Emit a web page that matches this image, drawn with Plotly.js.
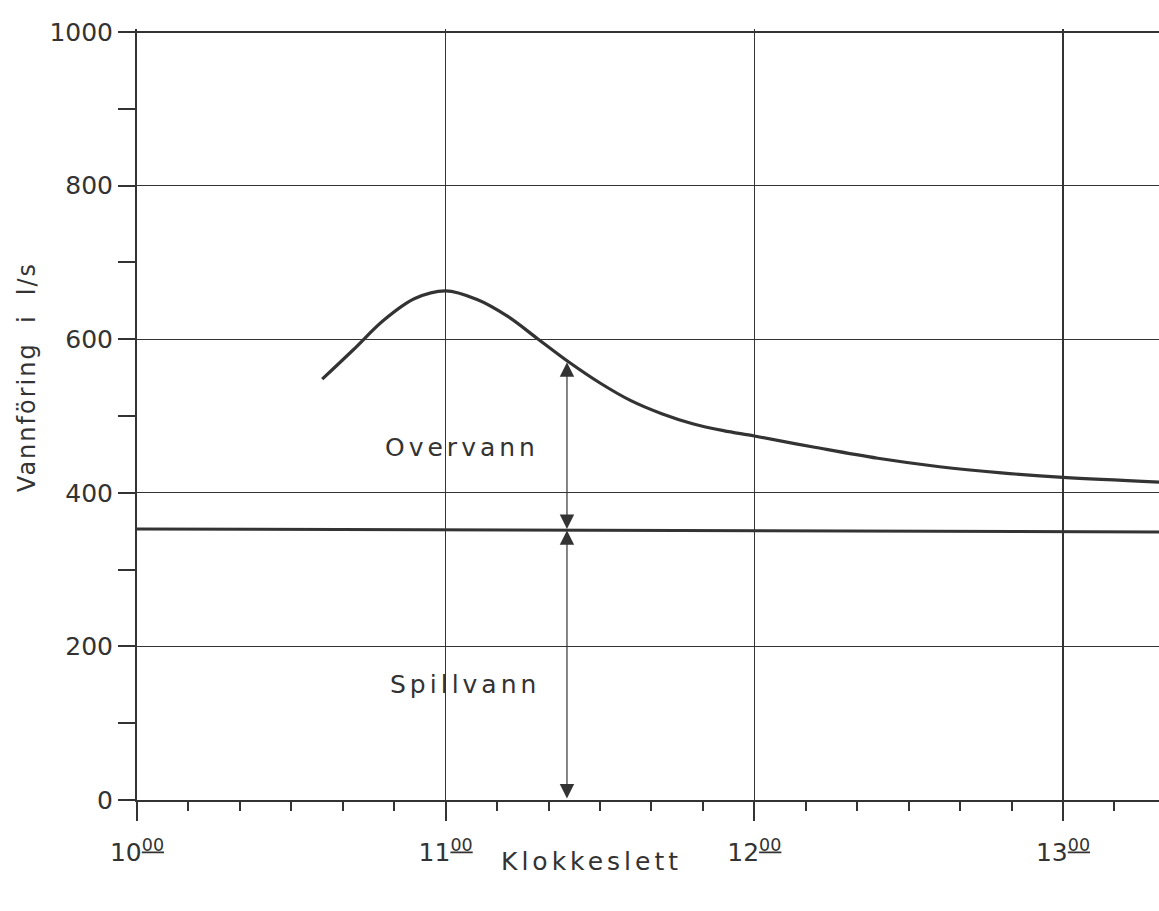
<!DOCTYPE html>
<html>
<head>
<meta charset="utf-8">
<script src="https://cdn.plot.ly/plotly-3.0.1.min.js"></script>
<style>
  html, body { margin: 0; padding: 0; background: #fff; }
  #chart { width: 1159px; height: 911px; }
</style>
</head>
<body>
<div id="chart"></div>
<script>
// Time in decimal hours, flow in l/s
const curveTime = [10.60, 10.70, 10.80, 10.90, 11.00, 11.10, 11.20, 11.30, 11.40, 11.50, 11.60, 11.70, 11.80, 11.90, 12.00, 12.20, 12.40, 12.60, 12.80, 13.00, 13.311];
const curveFlow = [548, 586, 625, 653, 663, 652, 630, 600, 570, 543, 520, 503, 490, 481, 474, 459, 445, 434, 426, 420, 414];

const spillTime = [10.0, 13.311];
const spillFlow = [353, 349];

const arrowTime = 11.393;
const arrowTop = 570;
const arrowMid = 351;
const arrowBottom = 0;

const xTickVals = [10, 11, 12, 13];
const xTickText = ['10<sup><u>00</u></sup>', '11<sup><u>00</u></sup>', '12<sup><u>00</u></sup>', '13<sup><u>00</u></sup>'];
const yTickVals = [0, 200, 400, 600, 800, 1000];

const labelOver = 'Overvann';
const labelSpill = 'Spillvann';
const xTitle = 'Klokkeslett';
const yTitle = 'Vannföring  i  l/s';

const ink = '#333333';
const font = 'DejaVu Sans, sans-serif';

const traces = [
  { x: spillTime, y: spillFlow, mode: 'lines', line: { color: ink, width: 3 }, hoverinfo: 'skip', showlegend: false },
  { x: curveTime, y: curveFlow, mode: 'lines', line: { color: ink, width: 3.2, shape: 'spline', smoothing: 1 }, hoverinfo: 'skip', showlegend: false }
];

const spaced = (t, s) => '<span style="letter-spacing:' + s + 'px">' + t + '</span>';

const arrowStyle = { xref: 'x', yref: 'y', axref: 'x', ayref: 'y', showarrow: true, arrowside: 'end+start',
  arrowhead: 2, startarrowhead: 2, arrowsize: 2.4, startarrowsize: 2.4, arrowwidth: 1.2, arrowcolor: ink,
  standoff: 0, startstandoff: 0, text: '' };

const annotations = [
  Object.assign({ x: arrowTime, y: arrowTop, ax: arrowTime, ay: arrowMid }, arrowStyle),
  Object.assign({ x: arrowTime, y: arrowMid, ax: arrowTime, ay: arrowBottom }, arrowStyle),
  { x: 11.053, y: 459, xref: 'x', yref: 'y', text: spaced(labelOver, 4), showarrow: false, font: { family: font, size: 25, color: ink }, xanchor: 'center', yanchor: 'middle' },
  { x: 11.063, y: 150, xref: 'x', yref: 'y', text: spaced(labelSpill, 4), showarrow: false, font: { family: font, size: 25, color: ink }, xanchor: 'center', yanchor: 'middle' },
  { x: 11.474, y: -0.080, xref: 'x', yref: 'paper', text: spaced(xTitle, 4), showarrow: false, font: { family: font, size: 25, color: ink }, xanchor: 'center', yanchor: 'middle' },
  { x: -0.107, y: 0.548, xref: 'paper', yref: 'paper', text: spaced(yTitle, 2), textangle: -90, showarrow: false, font: { family: font, size: 24, color: ink }, xanchor: 'center', yanchor: 'middle' }
];

const layout = {
  width: 1159, height: 911,
  margin: { l: 137, r: 0, t: 29, b: 111, pad: 0 },
  paper_bgcolor: '#ffffff', plot_bgcolor: '#ffffff',
  showlegend: false,
  xaxis: {
    range: [10, 13.311], tickmode: 'array', tickvals: xTickVals, ticktext: xTickText,
    showgrid: true, gridcolor: ink, gridwidth: 1.3,
    showline: true, linecolor: ink, linewidth: 2,
    ticks: 'outside', ticklen: 19, tickwidth: 2, tickcolor: ink, ticklabelstandoff: 10,
    minor: { dtick: 1/6, tick0: 10, ticks: 'outside', ticklen: 9, tickwidth: 2, tickcolor: ink, showgrid: false },
    tickfont: { family: font, size: 25, color: ink },
    zeroline: false, fixedrange: true
  },
  yaxis: {
    range: [0, 1004], tickmode: 'array', tickvals: yTickVals,
    showgrid: true, gridcolor: ink, gridwidth: 1.3,
    showline: true, linecolor: ink, linewidth: 2,
    ticks: 'outside', ticklen: 17, tickwidth: 2, tickcolor: ink,
    minor: { dtick: 100, tick0: 0, ticks: 'outside', ticklen: 17, tickwidth: 2, tickcolor: ink, showgrid: false },
    tickfont: { family: font, size: 25, color: ink },
    zeroline: false, fixedrange: true
  },
  annotations: annotations
};

Plotly.newPlot('chart', traces, layout, { staticPlot: true, displayModeBar: false });
</script>
</body>
</html>
